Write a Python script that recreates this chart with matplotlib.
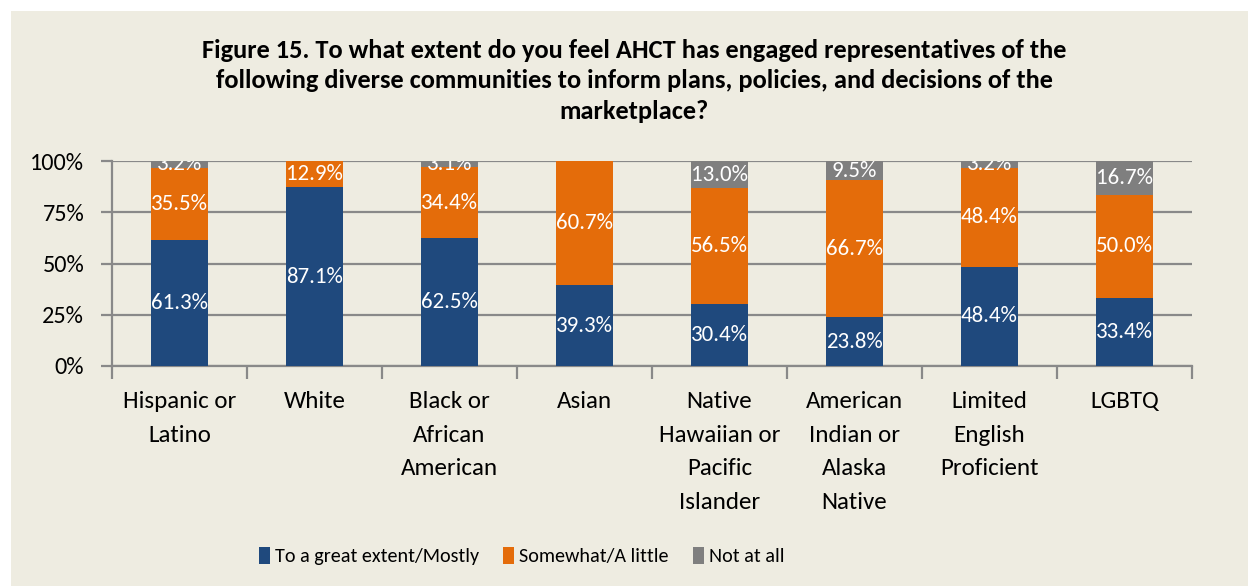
import matplotlib
matplotlib.use("Agg")
import matplotlib.pyplot as plt
from matplotlib.patches import Rectangle
from matplotlib import font_manager
import numpy as np

installed = {f.name for f in font_manager.fontManager.ttflist}
base = "Carlito" if "Carlito" in installed else "Lato"
plt.rcParams['font.family'] = [base, 'DejaVu Sans']

categories = [
    "Hispanic or\nLatino", "White", "Black or\nAfrican\nAmerican", "Asian",
    "Native\nHawaiian or\nPacific\nIslander", "American\nIndian or\nAlaska\nNative",
    "Limited\nEnglish\nProficient", "LGBTQ",
]
great_extent = [61.3, 87.1, 62.5, 39.3, 30.4, 23.8, 48.4, 33.4]
somewhat = [35.5, 12.9, 34.4, 60.7, 56.5, 66.7, 48.4, 50.0]
not_at_all = [3.2, 0.0, 3.1, 0.0, 13.0, 9.5, 3.2, 16.7]
series_names = ["To a great extent/Mostly", "Somewhat/A little", "Not at all"]
y_ticks = [0, 25, 50, 75, 100]
y_tick_labels = ["0%", "25%", "50%", "75%", "100%"]
title = ("Figure 15. To what extent do you feel AHCT has engaged representatives of the\n"
         "following diverse communities to inform plans, policies, and decisions of the\n"
         "marketplace?")

colors = ["#1F497D", "#E46C0A", "#7F7F7F"]
bg = "#EEECE1"
grid_c = "#898989"

if base == "Carlito":
    sz_xtick, sz_ytick, sz_val, sz_title, sz_leg = 18, 17.5, 16.5, 19, 14.5
else:
    sz_xtick, sz_ytick, sz_val, sz_title, sz_leg = 16, 16, 15, 17.5, 14

fig = plt.figure(figsize=(12.48, 5.86), dpi=100, facecolor="white")
fig.patches.append(Rectangle((11 / 1248, 0), 1 - 11 / 1248, 1 - 11 / 586,
                             transform=fig.transFigure, facecolor=bg,
                             edgecolor="none", zorder=-10))

ax = fig.add_axes([112 / 1248, 1 - 366 / 586, (1192 - 112) / 1248, (366 - 161) / 586])
ax.set_facecolor(bg)
ax.patch.set_alpha(0)

x = np.arange(len(categories))
width = 0.415
bottom = np.zeros(len(categories))
for vals, color, name in zip([great_extent, somewhat, not_at_all], colors, series_names):
    vals = np.array(vals)
    ax.bar(x, vals, width, bottom=bottom, color=color, label=name, zorder=3)
    for xi, b, v in zip(x, bottom, vals):
        if v > 0:
            ax.text(xi, b + v / 2, f"{v:.1f}%", ha="center", va="center",
                    color="white", fontsize=sz_val, zorder=4, clip_on=True)
    bottom += vals

ax.set_xlim(-0.5, len(categories) - 0.5)
ax.set_ylim(0, 100)
ax.set_yticks(y_ticks)
ax.set_yticklabels(y_tick_labels, fontsize=sz_ytick)
ax.yaxis.grid(True, color=grid_c, linewidth=1.6, zorder=1)
ax.set_axisbelow(True)

ax.set_xticks(x)
ax.set_xticklabels(categories, fontsize=sz_xtick, linespacing=1.74, va="top")
ax.tick_params(axis="x", length=0, pad=18)
ax.set_xticks(np.arange(-0.5, len(categories)), minor=True)
ax.tick_params(axis="x", which="minor", length=9, width=1.6, color=grid_c)
ax.tick_params(axis="y", length=8, width=1.6, color=grid_c, pad=12)

for s in ["top", "right"]:
    ax.spines[s].set_visible(False)
ax.spines["left"].set_color(grid_c)
ax.spines["left"].set_linewidth(1.6)
ax.spines["bottom"].set_color(grid_c)
ax.spines["bottom"].set_linewidth(1.6)

fig.text(0.508, 1 - 81 / 586, title, ha="center", va="center", fontsize=sz_title,
         fontweight="bold", linespacing=1.42)

handles, labels = ax.get_legend_handles_labels()
fig.legend(handles, labels, loc="center", bbox_to_anchor=(0.418, 1 - 556 / 586),
           ncol=3, frameon=False, fontsize=sz_leg, handlelength=0.55, handleheight=0.9,
           handletextpad=0.25, columnspacing=1.2)

fig.savefig("out.png", dpi=100, facecolor="white")
